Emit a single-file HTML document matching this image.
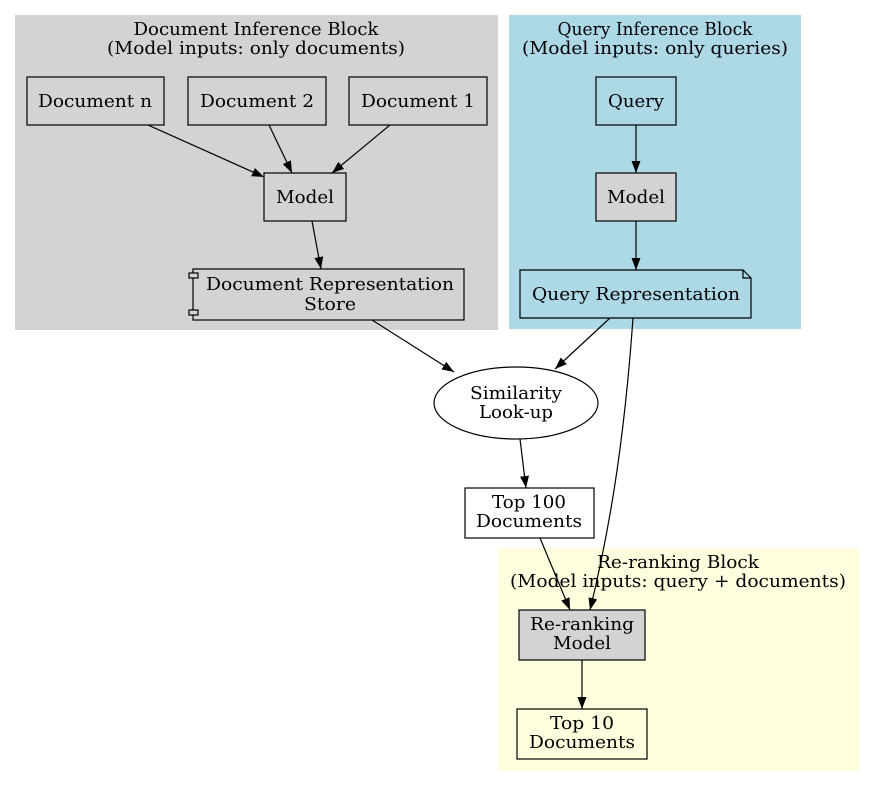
<!DOCTYPE html>
<html><head><meta charset="utf-8"><style>
html,body{margin:0;padding:0;background:#fff}
svg text{font-family:"DejaVu Serif","Liberation Serif",serif;font-size:18px;fill:#000;text-anchor:middle}
</style></head><body>
<svg width="875" height="786" viewBox="0 0 875 786" xmlns="http://www.w3.org/2000/svg">
<defs><marker id="a" viewBox="0 0 12 10" refX="12" refY="5" markerWidth="12" markerHeight="10" markerUnits="userSpaceOnUse" orient="auto"><path d="M0,0.5 L12,5 L0,9.5 z" fill="#000"/></marker></defs>
<rect x="15" y="15" width="483" height="315" fill="#d3d3d3"/>
<rect x="509" y="15" width="292" height="314" fill="#add8e6"/>
<rect x="498" y="548" width="361" height="223" fill="#ffffe0"/>
<text x="256" y="35" textLength="245" lengthAdjust="spacingAndGlyphs">Document Inference Block</text>
<text x="256" y="54" textLength="298" lengthAdjust="spacingAndGlyphs">(Model inputs: only documents)</text>
<text x="655" y="35" textLength="195" lengthAdjust="spacingAndGlyphs">Query Inference Block</text>
<text x="655" y="54" textLength="266" lengthAdjust="spacingAndGlyphs">(Model inputs: only queries)</text>
<text x="678" y="568" textLength="162" lengthAdjust="spacingAndGlyphs">Re-ranking Block</text>
<text x="678" y="587" textLength="336" lengthAdjust="spacingAndGlyphs">(Model inputs: query + documents)</text>
<g stroke="#000" stroke-width="1.2" fill="none">
<rect x="27" y="77" width="137" height="48"/>
<rect x="188" y="77" width="138" height="48"/>
<rect x="349" y="77" width="138" height="48"/>
<rect x="264" y="173" width="82" height="48" fill="#d3d3d3"/>
<rect x="193" y="269" width="271" height="51" fill="#d3d3d3"/>
<rect x="189" y="273" width="9" height="5" fill="#d3d3d3"/>
<rect x="189" y="310" width="9" height="5" fill="#d3d3d3"/>
<rect x="596" y="77" width="80" height="48" fill="#add8e6"/>
<rect x="596" y="173" width="80" height="48" fill="#d3d3d3"/>
<path d="M520,270 H743 L751,278 V318 H520 Z M743,270 V278 H751" fill="#add8e6"/>
<ellipse cx="516" cy="403" rx="82" ry="36"/>
<rect x="465" y="488" width="129" height="50"/>
<rect x="519" y="610" width="126" height="50" fill="#d3d3d3"/>
<rect x="517" y="709" width="130" height="50"/>
</g>
<g stroke="#000" stroke-width="1.2" fill="none" marker-end="url(#a)">
<path d="M148,125 L264,177"/>
<path d="M269,125 L292,173"/>
<path d="M390,125 L332,173"/>
<path d="M312,221 L321,269"/>
<path d="M636,125 V173"/>
<path d="M636,221 V270"/>
<path d="M372,320 L454,372"/>
<path d="M610,318 L555,369"/>
<path d="M520,439 L526,488"/>
<path d="M540,538 L570,610"/>
<path d="M633,318 C625,430 612,520 590,610"/>
<path d="M582,660 V709"/>
</g>
<text x="95" y="107" textLength="114" lengthAdjust="spacingAndGlyphs">Document n</text>
<text x="257" y="107" textLength="114" lengthAdjust="spacingAndGlyphs">Document 2</text>
<text x="418" y="107" textLength="114" lengthAdjust="spacingAndGlyphs">Document 1</text>
<text x="305" y="203" textLength="58" lengthAdjust="spacingAndGlyphs">Model</text>
<text x="330" y="290" textLength="248" lengthAdjust="spacingAndGlyphs">Document Representation</text>
<text x="330" y="310" textLength="52" lengthAdjust="spacingAndGlyphs">Store</text>
<text x="636" y="107" textLength="56" lengthAdjust="spacingAndGlyphs">Query</text>
<text x="636" y="203" textLength="58" lengthAdjust="spacingAndGlyphs">Model</text>
<text x="636" y="300" textLength="208" lengthAdjust="spacingAndGlyphs">Query Representation</text>
<text x="516" y="399" textLength="92" lengthAdjust="spacingAndGlyphs">Similarity</text>
<text x="516" y="418" textLength="74" lengthAdjust="spacingAndGlyphs">Look-up</text>
<text x="529" y="508" textLength="74" lengthAdjust="spacingAndGlyphs">Top 100</text>
<text x="529" y="527" textLength="106" lengthAdjust="spacingAndGlyphs">Documents</text>
<text x="582" y="630" textLength="104" lengthAdjust="spacingAndGlyphs">Re-ranking</text>
<text x="582" y="649" textLength="58" lengthAdjust="spacingAndGlyphs">Model</text>
<text x="582" y="729" textLength="64" lengthAdjust="spacingAndGlyphs">Top 10</text>
<text x="582" y="748" textLength="106" lengthAdjust="spacingAndGlyphs">Documents</text>
</svg>
</body></html>
